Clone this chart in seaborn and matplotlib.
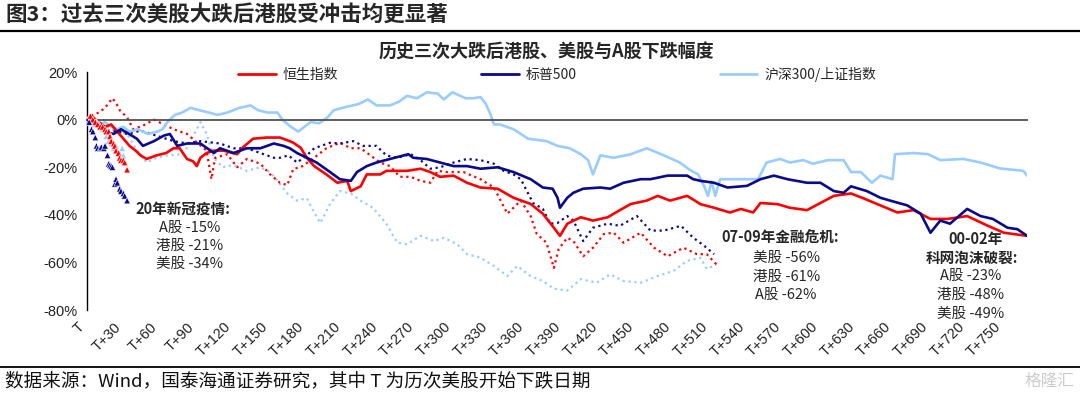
import matplotlib.pyplot as plt
import seaborn as sns
import pandas as pd
from matplotlib.lines import Line2D

# ---- data (% change from day T) ----
# 00-02 dot-com burst (solid lines)
hsi_0002_x = [0, 5, 10, 15, 20, 25, 30, 35, 40, 44, 49, 57, 65, 71, 76, 82, 87, 90, 93, 98, 104, 112, 123, 128,
              136, 147, 158, 166, 169, 175, 180, 186, 196, 205, 213, 216, 224, 229, 240, 245, 262, 273, 281, 289,
              300, 311, 322, 336, 349, 363, 373, 382, 387, 393, 404, 414, 426, 436, 445, 458, 467, 477, 491, 502,
              513, 526, 535, 545, 551, 565, 575, 589, 600, 611, 625, 635, 649, 663, 676, 690, 704, 720, 737, 750, 769]
hsi_0002_y = [0, 1, -1, -3, -2, -5, -8, -11, -13, -15, -16.5, -15, -14, -12, -12, -16.5, -17.5, -19.5, -16, -14, -13,
              -13, -14.5, -11.5, -8, -7.5, -7.5, -9, -9.7, -11.8, -16, -19.5, -23, -26.5, -25.7, -30, -28, -23, -23,
              -21.5, -21.5, -20.6, -22, -24, -23.5, -26.5, -28.5, -29, -32.8, -35.4, -39.5, -45.4, -48.8, -43.7, -41,
              -42.4, -41, -38, -35.4, -34, -32, -34, -32, -35.5, -37, -39, -37.5, -39, -35, -35.5, -37, -38, -35, -32,
              -31, -33, -36, -39, -38, -41.7, -41.7, -40.5, -44.6, -47.5, -48.8]

spx_0002_x = [0, 5, 10, 15, 22, 28, 33, 41, 46, 55, 63, 68, 74, 82, 93, 104, 109, 120, 131, 142, 153, 161, 166, 172,
              180, 188, 199, 207, 216, 221, 229, 237, 248, 263, 267, 278, 289, 300, 311, 322, 336, 349, 363, 373, 381,
              385, 387, 393, 398, 406, 420, 428, 439, 453, 461, 475, 491, 496, 502, 513, 524, 540, 551, 562, 573, 589,
              600, 611, 619, 625, 638, 649, 657, 671, 682, 690, 698, 706, 720, 731, 741, 753, 761, 769]
spx_0002_y = [0, -2, -3, -5, -6, -4, -5.5, -8, -11, -9, -6.7, -6, -11, -10, -10, -14, -12, -14, -12, -12, -10, -11, -12,
              -14, -16, -18, -22, -25, -25.7, -22, -19.5, -18, -16.5, -14.5, -16, -16.5, -18, -19.5, -19.5, -20.6, -20,
              -22, -25, -28.5, -29, -32.8, -37, -32.8, -30.7, -29, -28.5, -29, -26.5, -25, -25, -23.5, -23.5, -25,
              -25.7, -26.5, -28.5, -27.8, -25, -23.5, -25, -26.5, -26.5, -30, -30.7, -28, -30, -32.8, -34, -36, -39.5,
              -47.5, -42.4, -43.7, -37.5, -40.5, -41.7, -45.4, -46, -48.8]

sh_0002_x = [0, 5, 10, 15, 20, 25, 30, 35, 42, 50, 58, 62, 66, 72, 78, 85, 92, 100, 107, 115, 125, 134, 140, 148, 156,
             160, 167, 173, 183, 190, 197, 202, 213, 222, 230, 237, 248, 255, 262, 270, 278, 287, 292, 299, 310, 316,
             322, 326, 330, 333, 338, 349, 361, 376, 385, 395, 404, 410, 414, 420, 431, 445, 458, 472, 485, 493, 500,
             505, 508, 511, 514, 518, 530, 549, 556, 567, 575, 586, 594, 606, 619, 625, 633, 642, 649, 659, 661, 676,
             688, 698, 717, 731, 747, 766, 769]
sh_0002_y = [0, -1, -2, -1, -3, -4, -3, -5, -4, -6, -5, -4, -1, 2, 3, 5, 4, 3, 2, 3, 5, 6, 4, 3, 3, 0, -3, -5, -1, -1.5,
             1, 4, 5.5, 6.5, 8.5, 6, 6, 7.5, 10, 9, 11.5, 11, 8.5, 11.5, 9, 9, 9.5, 7, 2.5, -2, -2, -4, -8, -9, -11, -12,
             -14.5, -17, -23, -15, -16, -14.5, -12, -15, -18, -21, -23, -28, -32, -26, -32, -25, -25, -25, -18, -16.5,
             -18, -17, -18.5, -17, -17, -22, -22, -26.5, -23.5, -25, -14.5, -14, -14.5, -17, -16.5, -18, -20.5, -21.5,
             -23.5]

# 07-09 financial crisis (dotted lines)
hsi_0709_x = [0, 5, 10, 15, 21, 24, 27, 33, 38, 46, 55, 63, 71, 82, 90, 98, 102, 105, 115, 123, 131, 142, 150, 158,
              164, 169, 175, 186, 196, 207, 216, 224, 232, 240, 248, 256, 265, 273, 281, 287, 295, 308, 322, 333, 344,
              355, 363, 368, 376, 382, 386, 393, 398, 406, 414, 423, 431, 439, 453, 464, 475, 488, 499, 507, 515]
hsi_0709_y = [0, 2, 3, 5, 9, 7, 4, 1, -4, -2.5, 0, -2, -4, -6, -9.5, -13, -25, -16, -14.5, -20, -16.5, -18.5, -23,
              -26.5, -27.5, -20.6, -20, -16, -12, -9.7, -12, -12, -15, -18, -19.5, -24, -24, -25.7, -26.5, -21.5, -22,
              -22, -25, -28.5, -39.5, -34, -40.5, -48, -51.7, -62.3, -54.3, -49.6, -51, -57.4, -53.8, -48, -47.5,
              -51.7, -47.5, -53.8, -57.4, -53.8, -56.5, -56.5, -60.8]

spx_0709_x = [0, 5, 10, 19, 26, 33, 44, 57, 71, 82, 93, 109, 120, 131, 142, 153, 158, 165, 172, 180, 186, 199, 207,
              218, 226, 237, 245, 254, 265, 273, 281, 289, 300, 311, 322, 333, 341, 349, 355, 365, 373, 379, 385, 393,
              398, 406, 414, 426, 436, 450, 461, 472, 486, 496, 505, 513]
spx_0709_y = [0, -1, -3, -4.6, -5, -6, -4.6, -6.7, -9, -10, -9, -10, -12, -12, -14, -16, -16, -15, -18, -15, -12, -9.7,
              -10, -9, -11, -11, -15, -16, -14.5, -17, -20.6, -20, -18, -16.5, -17, -18.5, -21.5, -23, -25, -35, -37.5,
              -43.7, -43.4, -40.5, -42.4, -51, -45.4, -43.7, -44.6, -40.5, -46.6, -46.6, -44.6, -49.6, -53, -56.5]

csi_0709_x = [0, 5, 10, 15, 20, 26, 33, 40, 49, 57, 66, 79, 86, 93, 98, 104, 111, 120, 131, 142, 150, 156, 164, 172,
              180, 185, 191, 199, 207, 216, 224, 234, 245, 254, 262, 273, 284, 292, 303, 311, 322, 333, 344, 352, 363,
              373, 382, 393, 404, 417, 428, 439, 453, 467, 480, 491, 502, 507, 515]
csi_0709_y = [0, -2, -3, -2, -4, -5, -6, -12, -18, -16, -15, -14.5, -8, -1, -6, -16, -20, -19, -21.5, -20, -22, -25.7,
              -31, -34, -33, -38, -43.4, -35.4, -30, -31, -34, -37, -43.7, -51.7, -52.3, -48.8, -51, -49.6, -52.3,
              -56.5, -58, -61.5, -65.7, -61.5, -65.7, -67.8, -71, -71.8, -67, -68.5, -65, -67.8, -68.5, -65.7, -63.5,
              -59.3, -58, -62.7, -60.8]

# 2020 covid (triangles)
spx_2020_x = [0, 2, 4, 5, 7, 8, 9, 11, 12, 14, 15, 17, 18, 19, 20, 21, 23, 24, 25, 27, 28, 30, 31, 33]
spx_2020_y = [0, -1, -4, -5, -7.5, -11, -12, -12, -11.5, -12, -11, -15, -18.5, -19, -19.5, -20, -27, -25, -26.5, -29,
              -30, -31, -32, -34]
hsi_2020_x = [0, 2, 3, 5, 7, 9, 11, 13, 15, 16, 18, 19, 20, 22, 23, 24, 26, 27, 28, 30, 31, 33]
hsi_2020_y = [0, 1, 1.5, 0, -1, -2, -3, -3, -4, -5, -5, -7, -9, -10, -11, -13, -14, -16, -17, -17, -18, -21]
csi_2020_x = [0, 2, 3, 5, 6, 8, 10, 11, 13, 15, 16, 18, 20, 22, 24, 25, 27, 29, 30]
csi_2020_y = [0, -0.5, -1, -1.5, -2, -1, -2, -3, -4, -5, -7, -9, -10, -12, -11, -13, -14, -12, -15]

names = ['恒生指数', '标普500', '沪深300/上证指数']
colors = {'恒生指数': '#FF0000', '标普500': '#0A0A8C', '沪深300/上证指数': '#99CCFF'}
tick_days = list(range(0, 751, 30))
tick_labels = ['T'] + ['T+%d' % d for d in tick_days[1:]]
y_ticks = [-80, -60, -40, -20, 0, 20]


def frame(xs, ys, name):
    return pd.DataFrame({'day': xs, 'pct': ys, 'index': name})


solid = pd.concat([frame(sh_0002_x, sh_0002_y, names[2]),
                   frame(hsi_0002_x, hsi_0002_y, names[0]),
                   frame(spx_0002_x, spx_0002_y, names[1])])
dotted = pd.concat([frame(csi_0709_x, csi_0709_y, names[2]),
                    frame(hsi_0709_x, hsi_0709_y, names[0]),
                    frame(spx_0709_x, spx_0709_y, names[1])])
covid = pd.concat([frame(csi_2020_x, csi_2020_y, names[2]),
                   frame(hsi_2020_x, hsi_2020_y, names[0]),
                   frame(spx_2020_x, spx_2020_y, names[1])])

sns.set_style('white')
plt.rcParams['font.family'] = ['Noto Sans CJK SC', 'DejaVu Sans']
plt.rcParams['axes.unicode_minus'] = False

fig = plt.figure(figsize=(10.8, 3.94), dpi=100)
ax = fig.add_axes([0.0803, 0.213, 0.8707, 0.604])
order = [names[2], names[0], names[1]]

sns.lineplot(data=dotted, x='day', y='pct', hue='index', hue_order=order, palette=colors,
             estimator=None, sort=False, linestyle=':', lw=1.6, legend=False, ax=ax)
sns.lineplot(data=solid, x='day', y='pct', hue='index', hue_order=order, palette=colors,
             estimator=None, sort=False, lw=1.9, legend=False, ax=ax)
sns.scatterplot(data=covid, x='day', y='pct', hue='index', hue_order=order, palette=colors,
                marker='^', s=22, linewidth=0.4, legend=False, ax=ax, zorder=5)

ax.set_xlim(0, 769)
ax.set_ylim(-80, 20)
ax.set_xlabel('')
ax.set_ylabel('')
for s in ['top', 'right']:
    ax.spines[s].set_visible(False)
ax.spines['left'].set_color('black')
ax.spines['left'].set_linewidth(1.0)
ax.spines['bottom'].set_position(('data', 0))
ax.spines['bottom'].set_color('#505050')
ax.spines['bottom'].set_linewidth(1.3)
ax.set_xticks(tick_days)
ax.tick_params(axis='x', direction='out', length=4, width=1, color='#505050', labelbottom=False)
ax.set_yticks(y_ticks)
ax.set_yticklabels(['%d%%' % v for v in y_ticks], fontsize=10.5, family='Liberation Sans', color='#222222')
ax.tick_params(axis='y', direction='out', length=4, width=1, pad=3)

sec = ax.secondary_xaxis(0)
sec.set_xticks(tick_days)
sec.set_xticklabels(tick_labels, rotation=45, ha='right', fontsize=10.5, family='Liberation Sans', color='#222222')
sec.tick_params(length=0, pad=7)
sec.spines['bottom'].set_visible(False)

# annotations
txt = dict(ha='center', va='center', fontsize=10.5, color='#262626', clip_on=False)
ax.text(79, -37.4, '20年新冠疫情:', fontweight='bold', **txt)
ax.text(84, -45.4, 'A股 -15%', **txt)
ax.text(84, -53, '港股 -21%', **txt)
ax.text(84, -60.5, '美股 -34%', **txt)

ax.text(567, -49.6, '07-09年金融危机:', fontweight='bold', **txt)
ax.text(572, -58, '美股 -56%', **txt)
ax.text(572, -66, '港股 -61%', **txt)
ax.text(572, -73.5, 'A股 -62%', **txt)

ax.text(727, -50, '00-02年', fontweight='bold', **txt)
ax.text(724, -58, '科网泡沫破裂:', fontweight='bold', **txt)
ax.text(723, -65.5, 'A股 -23%', **txt)
ax.text(723, -73.5, '港股 -48%', **txt)
ax.text(723, -81.5, '美股 -49%', **txt)

# legend
handles = [Line2D([], [], color=colors[n], lw=2) for n in names]
fig.legend(handles, names, loc='center', bbox_to_anchor=(0.516, 0.812), ncol=3, frameon=False,
           handlelength=2.7, handletextpad=0.5, columnspacing=10.3, fontsize=10)

# titles, rules, footer
fig.text(0.005, 1 - 14 / 394, '图3：过去三次美股大跌后港股受冲击均更显著', fontsize=15.5,
         fontweight='bold', va='center', ha='left')
fig.text(0.506, 1 - 52 / 394, '历史三次大跌后港股、美股与A股下跌幅度', fontsize=13,
         fontweight='bold', va='center', ha='center')
fig.add_artist(Line2D([0, 1], [1 - 31 / 394] * 2, color='black', lw=1.6, transform=fig.transFigure))
fig.add_artist(Line2D([0, 1], [1 - 367 / 394] * 2, color='black', lw=1.3, transform=fig.transFigure))
fig.text(0.005, 1 - 381 / 394, '数据来源：Wind，国泰海通证券研究，其中 T 为历次美股开始下跌日期',
         fontsize=13.4, va='center', ha='left', color='#111111')
fig.text(0.995, 1 - 381 / 394, '格隆汇', fontsize=12, va='center', ha='right', color='#cccccc')

fig.savefig('out.png', dpi=100)
